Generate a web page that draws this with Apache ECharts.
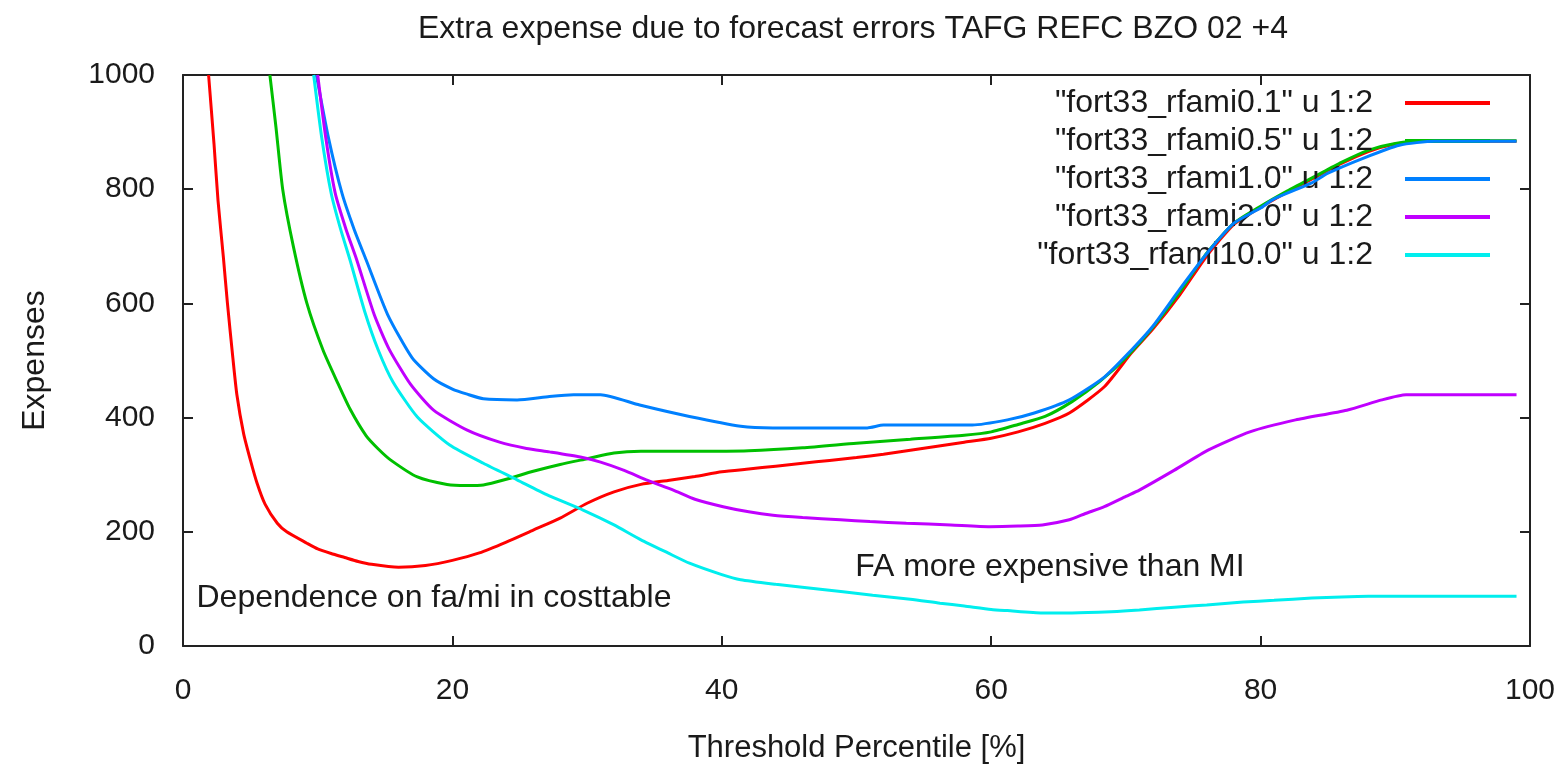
<!DOCTYPE html>
<html>
<head>
<meta charset="utf-8">
<script src="https://cdn.jsdelivr.net/npm/echarts@6/dist/echarts.min.js"></script>
<style>
html,body{margin:0;padding:0;background:#fff;}
#chart{width:1565px;height:765px;}
</style>
</head>
<body>
<div id="chart"></div>
<script>
// ---- data ----
const titleText = 'Extra expense due to forecast errors TAFG REFC BZO 02 +4';
const xAxisName = 'Threshold Percentile [%]';
const yAxisName = 'Expenses';
const seriesNames = [
  '"fort33_rfami0.1" u 1:2',
  '"fort33_rfami0.5" u 1:2',
  '"fort33_rfami1.0" u 1:2',
  '"fort33_rfami2.0" u 1:2',
  '"fort33_rfami10.0" u 1:2'
];
const seriesColors = ['#ff0000', '#00c000', '#0080ff', '#c000ff', '#00eeee'];

const xRed = [1.9, 2.3, 2.6, 3.0, 3.3, 3.7, 4.0, 4.5, 5.0, 5.5, 6.1, 7.0, 7.7, 9.2, 10, 11, 12, 13, 14, 16, 18, 20, 22, 24, 26, 28, 30, 32, 34, 36, 38, 40, 42, 44, 46, 48, 50, 52, 54, 56, 58, 60, 62, 64, 65.8, 68.4, 70.4, 72, 74, 76, 78, 80, 82, 84, 86, 88, 90, 92, 99];
const yRed = [1000, 880, 780, 680, 600, 505, 440, 372, 326, 285, 248, 215, 200, 180, 170, 162, 155, 148, 143, 138, 141, 150, 163, 182, 203, 224, 250, 270, 283, 290, 297, 305, 310, 315, 320, 325, 330, 336, 343, 350, 357, 364, 375, 390, 408, 454, 513, 555, 615, 683, 738, 768, 795, 820, 845, 866, 879, 884, 884];

const xGreen = [6.45, 6.9, 7.4, 8.2, 9.2, 10.4, 11.5, 12.4, 13.6, 14.5, 15.4, 17.4, 19.6, 21, 22.3, 24, 26, 28, 30, 32, 34, 38, 42, 46, 50, 54, 58, 60, 62, 64, 66, 68, 70, 72, 74, 76, 78, 80, 82, 84, 86, 88, 90, 92, 99];
const yGreen = [1000, 909, 800, 699, 600, 518, 460, 415, 368, 345, 326, 296, 283, 281, 282, 292, 306, 318, 328, 338, 341, 341, 342, 347, 355, 362, 369, 375, 388, 402, 428, 462, 505, 558, 620, 688, 740, 770, 797, 822, 847, 868, 880, 885, 885];

const xBlue = [9.9, 10.8, 11.8, 12.7, 13.6, 15.2, 17.0, 18.6, 20, 21.1, 22.3, 24.8, 27.2, 29, 31, 33.9, 37.6, 41.4, 43.8, 50.8, 52, 58.6, 61.2, 63.2, 65.8, 68.4, 70.4, 72, 74, 76.1, 78, 80, 81, 83.8, 85, 87.7, 90.3, 92.9, 99];
const yBlue = [1000, 890, 793, 730, 676, 580, 505, 468, 450, 441, 433, 431, 437, 440, 440, 422, 402, 385, 382, 382, 387, 387, 396, 408, 431, 471, 518, 560, 625, 690, 740, 767, 783, 811, 828, 855, 877, 884, 884];

const xPurple = [10.0, 10.6, 11.3, 12.1, 12.9, 14.2, 15.3, 16.9, 18.6, 21.1, 23.5, 25.5, 27.2, 29.5, 31, 32.7, 34.5, 36.4, 38, 40.1, 42, 43.8, 46, 48.8, 51, 53.7, 57, 59.9, 62, 63.8, 65.8, 67, 68.4, 70, 71, 73.6, 76.1, 79.2, 82.6, 86.4, 89, 90.8, 99];
const yPurple = [1000, 890, 793, 730, 676, 580, 520, 458, 413, 378, 357, 346, 340, 331, 322, 308, 290, 273, 257, 244, 235, 229, 225, 221, 218, 215, 212, 209, 210, 212, 221, 232, 244, 262, 273, 308, 343, 375, 396, 413, 431, 440, 440];

const xCyan = [9.7, 10.3, 11.0, 11.7, 12.4, 13.5, 14.5, 15.6, 17.4, 19.8, 22.3, 24.8, 27, 29.7, 32, 34, 36, 37.6, 40, 41.4, 44, 46.3, 49, 51.2, 54, 56.2, 58, 60, 61.2, 63.8, 66, 68.9, 71, 73.6, 76, 78.7, 81, 83.8, 86, 88, 99];
const yCyan = [1000, 890, 793, 730, 676, 585, 518, 462, 401, 352, 320, 291, 265, 238, 212, 186, 163, 145, 125, 116, 108, 102, 95, 89, 82, 75, 70, 64, 62, 58, 58, 60, 63, 68, 72, 77, 80, 84, 86, 87, 87];

// annotation labels and the data coordinates of their left edge
const noteTexts = ['Dependence on fa/mi in costtable', 'FA more expensive than MI'];
const noteX = [1.0, 49.9];
const noteY = [84, 138];

const xTicks = {min: 0, max: 100, interval: 20};
const yTicks = {min: 0, max: 1000, interval: 200};

// ---- chart ----
const xs = [xRed, xGreen, xBlue, xPurple, xCyan];
const ys = [yRed, yGreen, yBlue, yPurple, yCyan];
const FONT = 'Liberation Sans';
const TXT = '#1a1a1a';

function pairs(x, y) { return x.map((v, i) => [v, y[i]]); }

const series = seriesNames.map((name, i) => ({
  name: name,
  type: 'line',
  data: pairs(xs[i], ys[i]),
  showSymbol: false,
  symbol: 'none',
  smooth: 0.2,
  clip: true,
  color: seriesColors[i],
  lineStyle: {width: 3, color: seriesColors[i]},
  itemStyle: {color: seriesColors[i]},
  emphasis: {disabled: true},
  z: 2 + i
}));

series.push({
  name: 'notes',
  type: 'scatter',
  data: noteTexts.map((t, i) => ({value: [noteX[i], noteY[i]], text: t})),
  symbolSize: 0,
  silent: true,
  z: 10,
  label: {
    show: true,
    position: 'right',
    distance: 0,
    formatter: p => p.data.text,
    fontFamily: FONT,
    fontSize: 32,
    color: TXT,
    opacity: 1
  }
});

function borderLine() { return {show: true, onZero: false, lineStyle: {color: '#222', width: 2}}; }
function tickIn() { return {show: true, inside: true, length: 10, lineStyle: {color: '#222', width: 2}}; }

const option = {
  backgroundColor: '#fff',
  animation: false,
  title: {
    text: titleText,
    left: 848,
    textAlign: 'center',
    top: 8,
    textStyle: {fontFamily: FONT, fontSize: 32, fontWeight: 'normal', color: TXT}
  },
  legend: {
    data: seriesNames,
    orient: 'vertical',
    align: 'right',
    right: 70,
    top: 82,
    itemGap: 6,
    itemWidth: 85,
    itemHeight: 4,
    icon: 'rect',
    textStyle: {fontFamily: FONT, fontSize: 32, color: TXT, lineHeight: 32, padding: [0, 27, 0, 0]},
    selectedMode: false
  },
  grid: {left: 183, right: 35, top: 75, bottom: 119, containLabel: false, outerBoundsMode: 'none'},
  xAxis: [{
    type: 'value',
    min: xTicks.min, max: xTicks.max, interval: xTicks.interval,
    name: xAxisName,
    nameLocation: 'middle',
    nameGap: 87,
    nameTextStyle: {fontFamily: FONT, fontSize: 31, color: TXT},
    axisLine: borderLine(),
    axisTick: tickIn(),
    axisLabel: {fontFamily: FONT, fontSize: 30, color: TXT, margin: 30, formatter: v => String(v)},
    splitLine: {show: false}
  }, {
    type: 'value', position: 'top',
    min: xTicks.min, max: xTicks.max, interval: xTicks.interval,
    axisLine: borderLine(), axisTick: tickIn(),
    axisLabel: {show: false}, splitLine: {show: false}
  }],
  yAxis: [{
    type: 'value',
    min: yTicks.min, max: yTicks.max, interval: yTicks.interval,
    name: yAxisName,
    nameLocation: 'middle',
    nameGap: 132,
    nameTextStyle: {fontFamily: FONT, fontSize: 32, color: TXT},
    axisLine: borderLine(),
    axisTick: tickIn(),
    axisLabel: {fontFamily: FONT, fontSize: 30, color: TXT, margin: 28, formatter: v => String(v)},
    splitLine: {show: false}
  }, {
    type: 'value', position: 'right',
    min: yTicks.min, max: yTicks.max, interval: yTicks.interval,
    axisLine: borderLine(), axisTick: tickIn(),
    axisLabel: {show: false}, splitLine: {show: false}
  }],
  series: series
};

const chart = echarts.init(document.getElementById('chart'), null, {renderer: 'canvas'});
chart.setOption(option);
</script>
</body>
</html>
